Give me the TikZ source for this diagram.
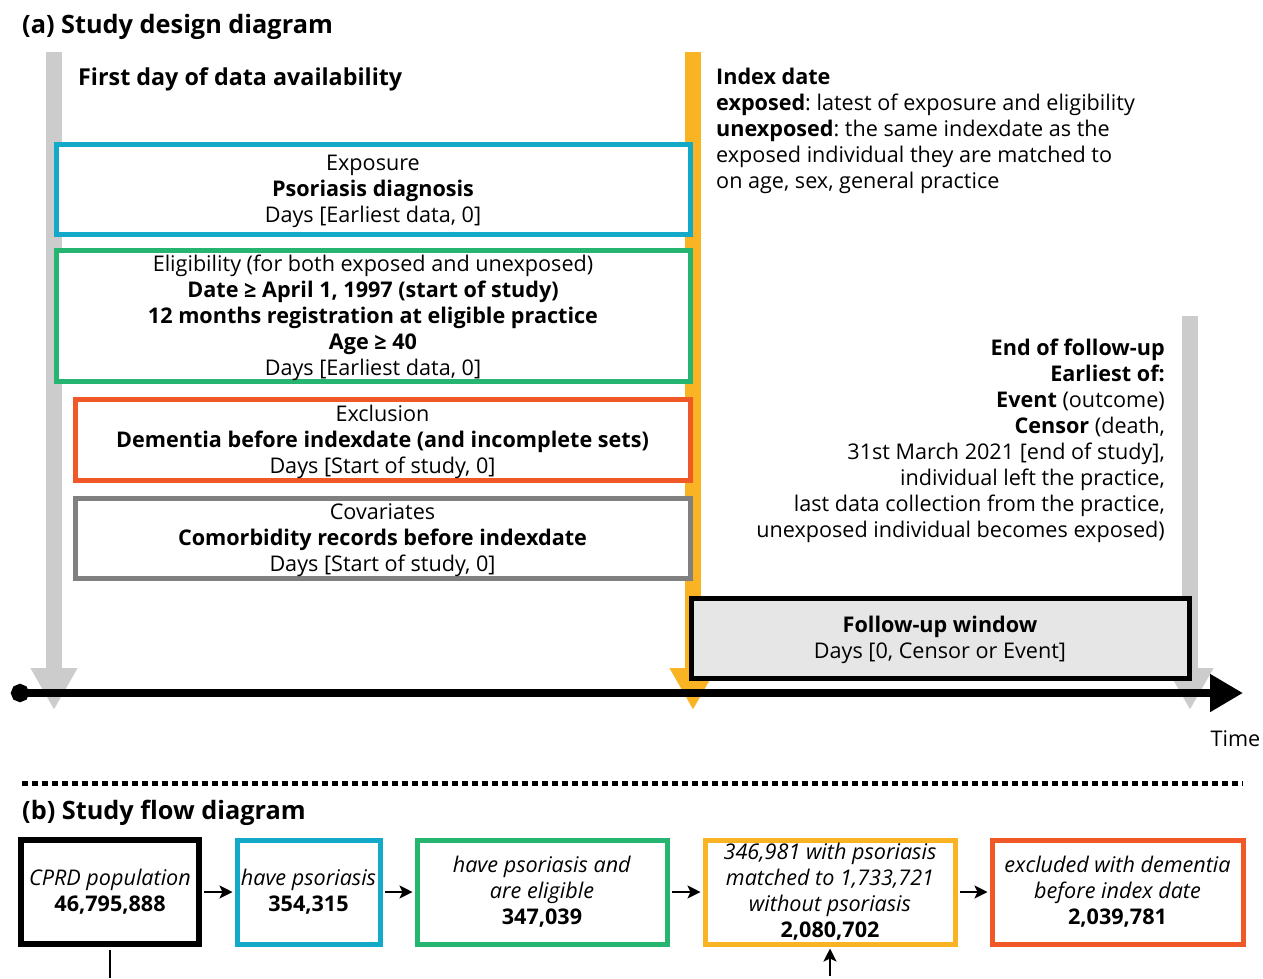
\documentclass[tikz,border=0pt]{standalone}
\usepackage{fontspec}
\setmainfont{Open Sans}
\usetikzlibrary{arrows.meta}
\frenchspacing
\definecolor{cblue}{RGB}{18,170,200}
\definecolor{cgreen}{RGB}{38,181,113}
\definecolor{cred}{RGB}{240,88,40}
\definecolor{cgraybox}{RGB}{128,128,128}
\definecolor{corange}{RGB}{250,180,35}
\definecolor{lgray}{RGB}{204,204,204}
\definecolor{fwfill}{RGB}{230,230,230}
\newcommand{\tup}{\rule{0pt}{21pt}}
\begin{document}
\begin{tikzpicture}[x=1pt,y=-1pt,
  body/.style={font=\fontsize{21.6}{26}\selectfont},
  head/.style={font=\fontsize{25.3}{29}\selectfont\bfseries},
  box/.style={draw, fill=white, line width=5pt, align=center, inner sep=0pt, body},
  flowbox/.style={draw, fill=white, line width=5pt, align=center, inner sep=0pt, body, minimum height=104pt},
  bar/.style={line width=16pt, -{Triangle[width=44pt,length=42pt]}},
  flowarrow/.style={line width=2pt, -{Stealth[length=13pt,width=13pt,inset=3pt]}, shorten >=2pt, shorten <=2pt},
]
\useasboundingbox (0,0) rectangle (1263,978);

% titles
\node[head, anchor=west, inner sep=0pt] (ta) at (22,27) {(a) Study design diagram};
\node[head, anchor=west, inner sep=0pt] (tb) at (22,813) {(b) Study flow diagram};

% vertical bars
\coordinate (g1top) at (54,52);  \coordinate (g1tip) at (54,710);
\coordinate (ortop) at (693,52); \coordinate (ortip) at (693,710);
\coordinate (g2top) at (1190,316); \coordinate (g2tip) at (1190,710);
\draw[bar, lgray] (g1top) -- (g1tip);
\draw[bar, corange] (ortop) -- (ortip);
\draw[bar, lgray] (g2top) -- (g2tip);

\node[font=\fontsize{23.3}{27}\selectfont\bfseries, anchor=west, inner sep=0pt] (first) at (78,79) {First day of data availability};

% boxes
\node[box, draw=cblue, minimum width=634pt, minimum height=90pt] (expo) at (373,189)
  {\tup Exposure\\ \textbf{Psoriasis diagnosis}\\ Days [Earliest data, 0]};
\node[box, draw=cgreen, minimum width=634pt, minimum height=131pt] (elig) at (373,315.5)
  {\tup Eligibility (for both exposed and unexposed)\\ \textbf{Date ≥ April 1, 1997 (start of study)}\\ \textbf{12 months registration at eligible practice}\\ \textbf{Age ≥ 40}\\ Days [Earliest data, 0]};
\node[box, draw=cred, minimum width=615pt, minimum height=81pt] (excl) at (382.5,439.5)
  {\tup Exclusion\\ \textbf{Dementia before indexdate (and incomplete sets)}\\ Days [Start of study, 0]};
\node[box, draw=cgraybox, minimum width=615pt, minimum height=80pt] (cova) at (382.5,538)
  {\tup Covariates\\ \textbf{Comorbidity records before indexdate}\\ Days [Start of study, 0]};

\node[body, anchor=west, align=left, inner sep=0pt] (index) at (716,130.5)
  {\textbf{Index date}\\ \textbf{exposed}: latest of exposure and eligibility\\ \textbf{unexposed}: the same indexdate as the\\ exposed individual they are matched to\\ on age, sex, general practice};

\node[body, anchor=east, align=right, inner sep=0pt] (endfu) at (1165,441)
  {\textbf{End of follow-up}\\ \textbf{Earliest of:}\\ \textbf{Event} (outcome)\\ \textbf{Censor} (death,\hspace*{5pt}\\ 31st March 2021 [end of study],\hspace*{5pt}\\ individual left the practice,\hspace*{5pt}\\ last data collection from the practice,\\ unexposed individual becomes exposed)};

\node[box, fill=fwfill, draw=black, minimum width=498pt, minimum height=80pt] (fuw) at (940,638)
  {\tup\textbf{Follow-up window}\\ Days [0, Censor or Event]};

% timeline
\coordinate (t0) at (11,693); \coordinate (t1) at (1243,693);
\draw[line width=8pt, {Circle[length=18pt]}-{Triangle[width=36pt,length=33pt]}] (t0) -- (t1);
\node[body, inner sep=0pt] (time) at (1235.5,739) {Time};

% separator
\coordinate (s0) at (22,783); \coordinate (s1) at (1243,783);
\draw[line width=5pt, dash pattern=on 6pt off 4pt] (s0) -- (s1);

% flow boxes
\node[flowbox, draw=black, line width=6pt, minimum width=178pt] (cprd) at (110,892)
  {\textit{CPRD population}\\ \textbf{46,795,888}};
\node[flowbox, draw=cblue, minimum width=143pt] (psor) at (308.5,892)
  {\textit{have psoriasis}\\ \textbf{354,315}};
\node[flowbox, draw=cgreen, minimum width=250pt] (eligf) at (542,892)
  {\textit{have psoriasis and}\\ \textit{are eligible}\\ \textbf{347,039}};
\node[flowbox, draw=corange, minimum width=250pt] (match) at (830,892)
  {\textit{346,981 with psoriasis}\\ \textit{matched to 1,733,721}\\ \textit{without psoriasis}\\ \textbf{2,080,702}};
\node[flowbox, draw=cred, minimum width=251pt] (exclf) at (1117.5,892)
  {\textit{excluded with dementia}\\ \textit{before index date}\\ \textbf{2,039,781}};

\draw[flowarrow] (cprd) -- (psor);
\draw[flowarrow] (psor) -- (eligf);
\draw[flowarrow] (eligf) -- (match);
\draw[flowarrow] (match) -- (exclf);

\coordinate (b1) at (110,978);
\coordinate (b2) at (830,978);
\draw[line width=2pt] (cprd.south) ++(0,3) -- (b1);
\draw[flowarrow] (b2) -- (match.south);
\end{tikzpicture}
\end{document}
